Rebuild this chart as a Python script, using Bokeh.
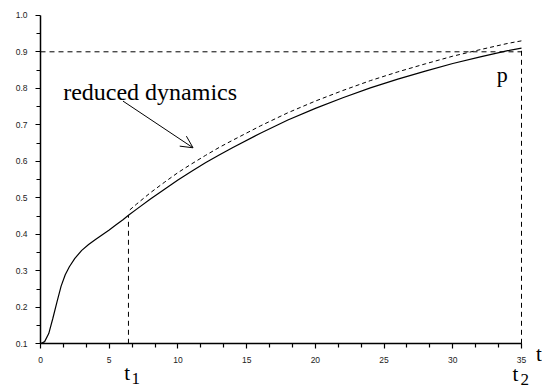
from bokeh.plotting import figure
from bokeh.models import Range1d, FixedTicker, Label, Arrow, OpenHead
from bokeh.embed import file_html
from bokeh.resources import INLINE

# ---- data ----
t_full = [0, 0.3, 0.6, 0.9, 1.2, 1.5, 1.8, 2.1, 2.5, 3.0, 3.5, 4.0, 4.5, 5.0, 5.5, 6.0, 6.4,
          7, 8, 9, 10, 11, 12, 13, 14, 16, 18, 20, 22, 24, 26, 28, 30, 32, 34, 35]
x_full = [0.100, 0.106, 0.128, 0.170, 0.215, 0.258, 0.289, 0.311, 0.334, 0.356, 0.372, 0.386,
          0.399, 0.412, 0.426, 0.440, 0.452,
          0.469, 0.497, 0.523, 0.549, 0.573, 0.596, 0.617, 0.638, 0.677, 0.713, 0.745,
          0.774, 0.801, 0.825, 0.847, 0.868, 0.886, 0.903, 0.910]

t_red = [6.5, 7, 8, 9, 10, 11, 12, 13, 14, 16, 18, 20, 22, 24, 26, 28, 30, 32, 34, 35]
x_red = [0.467, 0.483, 0.514, 0.542, 0.569, 0.593, 0.616, 0.638, 0.658, 0.697, 0.733, 0.765,
         0.794, 0.821, 0.845, 0.867, 0.888, 0.906, 0.923, 0.930]

t1 = 6.4
t2 = 35
x_t1 = 0.452
x_p = 0.910
p_level = 0.9

x_ticks = [0, 5, 10, 15, 20, 25, 30, 35]
y_ticks = [0.1, 0.2, 0.3, 0.4, 0.5, 0.6, 0.7, 0.8, 0.9, 1.0]
y_tick_labels = ["0.1", "0.2", "0.3", "0.4", "0.5", "0.6", "0.7", "0.8", "0.9", "1.0"]

x_min, x_max = 0, 35
y_min, y_max = 0.1, 1.0

# ---- layout: frame spans the whole canvas; axes sit at fixed data locations ----
W, H = 542, 389
ax_left_px, ax_right_px = 40.0, 521.0      # where t=0 and t=35 fall
ax_bottom_px, ax_top_px = 343.3, 14.8      # where 0.1 and 1.0 fall
sx = (ax_right_px - ax_left_px) / (x_max - x_min)
sy = (ax_bottom_px - ax_top_px) / (y_max - y_min)
xr = Range1d(x_min - ax_left_px / sx, x_max + (W - ax_right_px) / sx)
yr = Range1d(y_min - (H - ax_bottom_px) / sy, y_max + ax_top_px / sy)

p = figure(width=W, height=H, output_backend="svg", toolbar_location=None,
           x_range=xr, y_range=yr,
           min_border_left=0, min_border_right=0, min_border_top=0, min_border_bottom=0)
p.outline_line_color = None
p.xgrid.visible = False
p.ygrid.visible = False
p.background_fill_color = "white"
p.border_fill_color = "white"

x_minor = []
for a, b in zip(x_ticks[:-1], x_ticks[1:]):
    x_minor += [a + (b - a) / 3, a + 2 * (b - a) / 3]
y_minor = [round((a + b) / 2, 3) for a, b in zip(y_ticks[:-1], y_ticks[1:])]

p.xaxis.ticker = FixedTicker(ticks=x_ticks, minor_ticks=x_minor)
p.yaxis.ticker = FixedTicker(ticks=y_ticks, minor_ticks=y_minor)
p.yaxis.major_label_overrides = {v: s for v, s in zip(y_ticks, y_tick_labels)}
p.xaxis.fixed_location = y_min
p.yaxis.fixed_location = x_min
p.xaxis.bounds = (x_min, x_max)
p.yaxis.bounds = (y_min, y_max)

for ax in (p.xaxis[0], p.yaxis[0]):
    ax.axis_line_color = "black"
    ax.axis_line_width = 1.5
    ax.major_tick_line_color = "black"
    ax.minor_tick_line_color = "black"
    ax.major_tick_line_width = 1.2
    ax.minor_tick_line_width = 1.2
    ax.major_tick_out = 5
    ax.major_tick_in = 0
    ax.minor_tick_out = 4
    ax.minor_tick_in = 0
    ax.major_label_text_font = "Liberation Sans"
    ax.major_label_text_font_size = "8.5px"
    ax.major_label_text_color = "#222222"
    ax.major_label_standoff = 8

# reference dashed lines
p.line([x_min, t2], [p_level, p_level], line_color="black", line_width=1, line_dash="5 4")
p.line([t1, t1], [y_min, x_t1], line_color="black", line_width=1, line_dash="5 4")
p.line([t2, t2], [y_min, x_p], line_color="black", line_width=1, line_dash="5 4")

# curves
p.line(t_full, x_full, line_color="black", line_width=1.2)
p.line(t_red, x_red, line_color="black", line_width=1, line_dash="4 3")

# annotations
serif = "Liberation Serif"
p.add_layout(Label(x=1.65, y=0.79, text="reduced dynamics", text_font=serif,
                   text_font_size="24px", text_color="black", text_baseline="alphabetic"))
p.add_layout(Arrow(end=OpenHead(size=12, line_width=1, line_color="black"),
                   x_start=6.0, y_start=0.765, x_end=11.1, y_end=0.637,
                   line_color="black", line_width=1))
p.add_layout(Label(x=33.2, y=0.838, text="p", text_font=serif, text_font_size="22px",
                   text_color="black", text_baseline="alphabetic"))
p.add_layout(Label(x=36.05, y=0.073, text="t", text_font=serif, text_font_size="21px",
                   text_color="black", text_baseline="alphabetic"))
p.add_layout(Label(x=t1 - 0.3, y=0.019, text="t", text_font=serif, text_font_size="21px",
                   text_color="black", text_baseline="alphabetic"))
p.add_layout(Label(x=t1 + 0.22, y=0.005, text="1", text_font=serif, text_font_size="17px",
                   text_color="black", text_baseline="alphabetic"))
p.add_layout(Label(x=t2 - 0.66, y=0.018, text="t", text_font=serif, text_font_size="21px",
                   text_color="black", text_baseline="alphabetic"))
p.add_layout(Label(x=t2 - 0.07, y=0.003, text="2", text_font=serif, text_font_size="17px",
                   text_color="black", text_baseline="alphabetic"))

open("out.html", "w").write(file_html(p, INLINE))
